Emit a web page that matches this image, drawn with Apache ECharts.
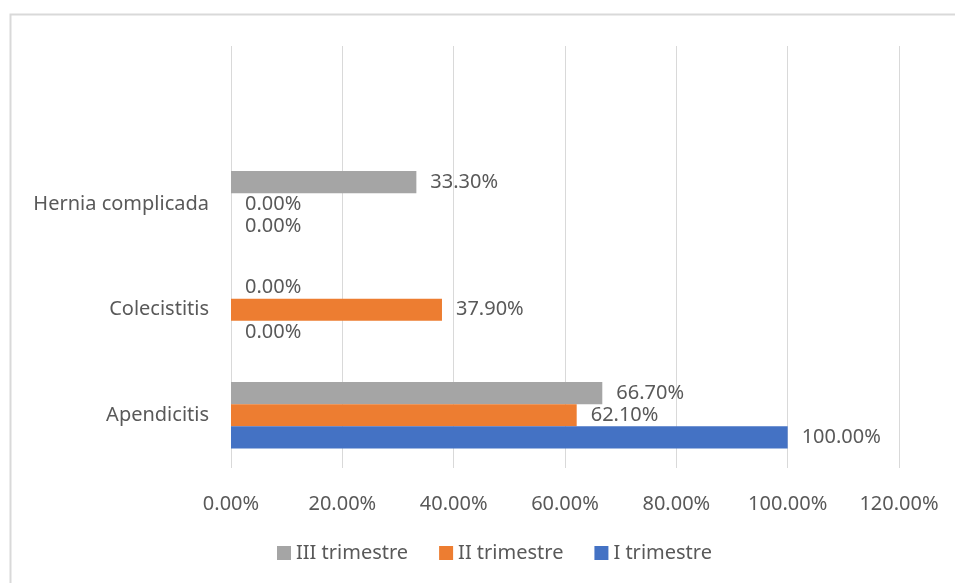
<!DOCTYPE html>
<html>
<head>
<meta charset="utf-8">
<title>Trimestre</title>
<script src="https://cdn.jsdelivr.net/npm/echarts@6/dist/echarts.min.js"></script>
<style>
  html, body { margin: 0; padding: 0; background: #fff; }
  #main { width: 955px; height: 583px; }
</style>
</head>
<body>
<div id="main"></div>
<script>
// categorias (de abajo hacia arriba), la ultima vacia como en Excel
const categories = ['Apendicitis', 'Colecistitis', 'Hernia complicada', ''];
const trimestre1 = [100.0, 0.0, 0.0, null];
const trimestre2 = [62.1, 37.9, 0.0, null];
const trimestre3 = [66.7, 0.0, 33.3, null];
const xTicks = [0, 20, 40, 60, 80, 100, 120];

const textColor = '#595959';
const font = 'Noto Sans';
const fontSize = 20;

function pct(v) {
  return v.toFixed(2) + '%';
}

function barSeries(name, data, color) {
  return {
    name: name,
    type: 'bar',
    data: data,
    barGap: '0%',
    barCategoryGap: '37%',
    itemStyle: { color: color },
    label: {
      show: true,
      position: 'right',
      distance: 14,
      color: textColor,
      fontFamily: font,
      fontSize: fontSize,
      formatter: p => (p.value == null ? '' : pct(p.value))
    }
  };
}

const chartDom = document.getElementById('main');
const myChart = echarts.init(chartDom);

const option = {
  animation: false,
  graphic: [{
    type: 'rect',
    shape: { x: 10.5, y: 14.5, width: 960, height: 600 },
    style: { fill: 'none', stroke: '#d9d9d9', lineWidth: 2 },
    silent: true
  }],
  legend: {
    top: 538,
    left: 272,
    itemWidth: 14,
    itemHeight: 14,
    itemGap: 31,
    icon: 'rect',
    textStyle: { color: textColor, fontFamily: font, fontSize: fontSize },
    data: ['III trimestre', 'II trimestre', 'I trimestre']
  },
  grid: { left: 231, right: 56, top: 46, bottom: 115 },
  xAxis: {
    type: 'value',
    min: 0,
    max: 120,
    interval: 20,
    axisLine: { show: false },
    axisTick: { show: false },
    splitLine: { lineStyle: { color: '#d9d9d9', width: 1 } },
    axisLabel: {
      color: textColor,
      fontFamily: font,
      fontSize: fontSize,
      margin: 26,
      formatter: v => (xTicks.indexOf(v) >= 0 ? pct(v) : '')
    }
  },
  yAxis: {
    type: 'category',
    data: categories,
    axisLine: { show: false },
    axisTick: { show: false },
    axisLabel: { color: textColor, fontFamily: font, fontSize: fontSize, margin: 22 }
  },
  series: [
    barSeries('III trimestre', trimestre3, '#a5a5a5'),
    barSeries('II trimestre', trimestre2, '#ed7d31'),
    barSeries('I trimestre', trimestre1, '#4472c4')
  ]
};

myChart.setOption(option);
</script>
</body>
</html>
